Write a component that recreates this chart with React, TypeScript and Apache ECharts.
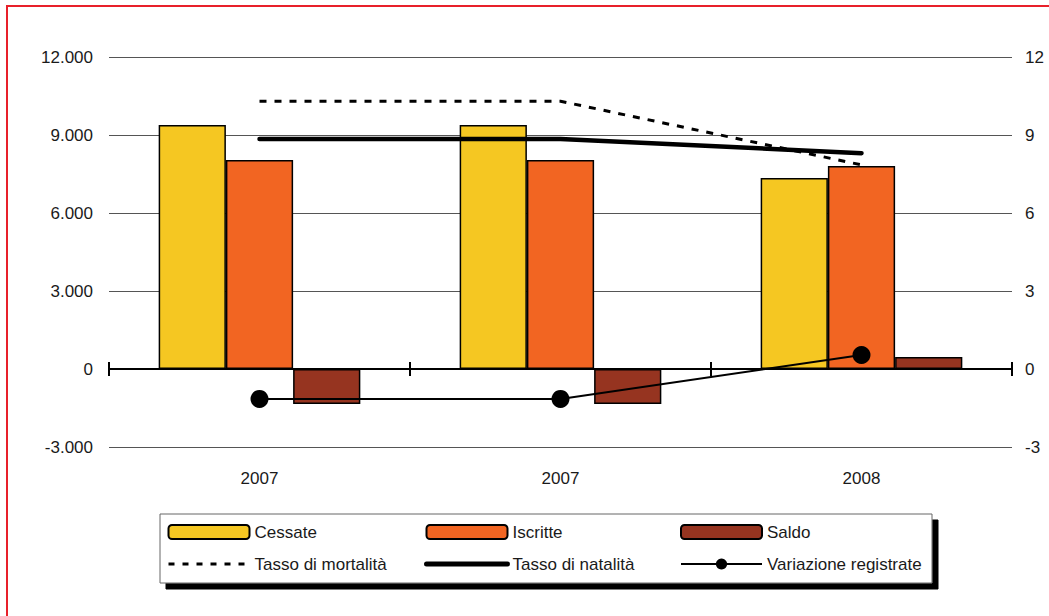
import React, { useEffect, useRef } from 'react';
import * as echarts from 'echarts';

const categories = ['2007', '2007', '2008'];
const cessate = [9385, 9385, 7346];
const iscritte = [8038, 8038, 7808];
const saldo = [-1347, -1347, 462];
const tassoMortalita = [10.3, 10.3, 7.85];
const tassoNatalita = [8.85, 8.85, 8.3];
const variazione = [-1.15, -1.15, 0.54];

const FONT = "'Liberation Sans', Arial, sans-serif";
const FS = 17;
const TXT = '#1a1a1a';

const fmtIt = (v: number) => {
  const s = Math.abs(v).toFixed(0).replace(/\B(?=(\d{3})+(?!\d))/g, '.');
  return (v < 0 ? '-' : '') + s;
};

export default function App() {
  const ref = useRef<HTMLDivElement>(null);
  useEffect(() => {
    const chart = echarts.init(ref.current!, null, { renderer: 'svg' });
    const legendBase = {
      orient: 'vertical',
      top: 522,
      padding: 0,
      itemWidth: 81,
      itemHeight: 14,
      itemGap: 12,
      textStyle: { fontFamily: FONT, fontSize: FS, color: TXT, lineHeight: 20, padding: [0, 0, 0, 0] },
      backgroundColor: 'transparent',
    };
    chart.setOption({
      animation: false,
      backgroundColor: '#ffffff',
      grid: { left: 109, right: 37, top: 57, bottom: 169, containLabel: false },
      graphic: [
        {
          type: 'rect',
          z: 0,
          shape: { x: 7, y: 6, width: 1200, height: 800 },
          style: { fill: 'none', stroke: '#e8202a', lineWidth: 2 },
        },
        {
          type: 'rect',
          z: 0,
          shape: { x: 160, y: 514, width: 772, height: 69 },
          style: {
            fill: '#ffffff',
            stroke: '#666666',
            lineWidth: 1,
            shadowColor: '#000000',
            shadowOffsetX: 6,
            shadowOffsetY: 6,
            shadowBlur: 0,
          },
        },
      ],
      legend: [
        {
          ...legendBase,
          left: 167,
          data: [
            'Cessate',
            { name: 'Tasso di mortalità', itemStyle: { opacity: 0 }, lineStyle: { width: 3, type: [6, 8] } },
          ],
        },
        {
          ...legendBase,
          left: 424,
          data: [
            'Iscritte',
            { name: 'Tasso di natalità', itemStyle: { opacity: 0 }, lineStyle: { width: 5 } },
          ],
        },
        {
          ...legendBase,
          left: 680,
          data: ['Saldo', { name: 'Variazione registrate', lineStyle: { width: 2 } }],
        },
      ],
      xAxis: [
        {
          type: 'category',
          data: categories,
          position: 'bottom',
          axisLine: { show: false, onZero: false },
          axisTick: { show: false },
          axisLabel: { margin: 23, fontFamily: FONT, fontSize: FS, color: TXT },
        },
        {
          type: 'category',
          data: categories,
          position: 'bottom',
          axisLine: { show: true, onZero: true, lineStyle: { color: '#000', width: 2 } },
          axisTick: { show: true, length: 7, lineStyle: { color: '#000', width: 2 } },
          axisLabel: { show: false },
        },
        {
          type: 'category',
          data: categories,
          position: 'top',
          axisLine: { show: true, onZero: true, lineStyle: { color: '#000', width: 2 } },
          axisTick: { show: true, length: 7, lineStyle: { color: '#000', width: 2 } },
          axisLabel: { show: false },
        },
      ],
      yAxis: [
        {
          type: 'value',
          min: -3000,
          max: 12000,
          interval: 3000,
          axisLine: { show: false },
          axisTick: { show: false },
          splitLine: { show: true, lineStyle: { color: '#555555', width: 1 } },
          axisLabel: { margin: 16, fontFamily: FONT, fontSize: FS, color: TXT, formatter: fmtIt },
        },
        {
          type: 'value',
          min: -3,
          max: 12,
          interval: 3,
          position: 'right',
          axisLine: { show: false },
          axisTick: { show: false },
          splitLine: { show: false },
          axisLabel: { margin: 13, fontFamily: FONT, fontSize: FS, color: TXT },
        },
      ],
      series: [
        {
          name: 'Cessate',
          type: 'bar',
          data: cessate,
          barGap: '0%',
          barCategoryGap: '33%',
          itemStyle: { color: '#f5c722', borderColor: '#000', borderWidth: 1.5 },
        },
        {
          name: 'Iscritte',
          type: 'bar',
          data: iscritte,
          itemStyle: { color: '#f26522', borderColor: '#000', borderWidth: 1.5 },
        },
        {
          name: 'Saldo',
          type: 'bar',
          data: saldo,
          itemStyle: { color: '#963420', borderColor: '#000', borderWidth: 1.5 },
        },
        {
          name: 'Tasso di mortalità',
          type: 'line',
          yAxisIndex: 1,
          data: tassoMortalita,
          symbol: 'none',
          itemStyle: { color: '#000' },
          lineStyle: { color: '#000', width: 3, type: [7, 8] },
          z: 5,
        },
        {
          name: 'Tasso di natalità',
          type: 'line',
          yAxisIndex: 1,
          data: tassoNatalita,
          symbol: 'none',
          itemStyle: { color: '#000' },
          lineStyle: { color: '#000', width: 4.5, cap: 'round' },
          z: 5,
        },
        {
          name: 'Variazione registrate',
          type: 'line',
          yAxisIndex: 1,
          data: variazione,
          symbol: 'circle',
          symbolSize: 18,
          itemStyle: { color: '#000' },
          lineStyle: { color: '#000', width: 2 },
          z: 6,
        },
      ],
    });
    return () => chart.dispose();
  }, []);
  return (
    <div
      ref={ref}
      style={{ position: 'absolute', left: 0, top: 0, width: 1049, height: 616 }}
    />
  );
}
